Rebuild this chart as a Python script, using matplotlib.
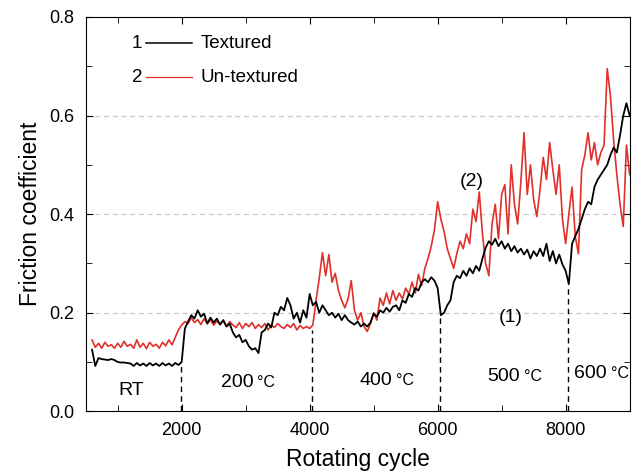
import numpy as np
import matplotlib
matplotlib.use('Agg')
import matplotlib.pyplot as plt

plt.rcParams['font.family'] = ['Liberation Sans', 'DejaVu Sans']

# sampling grid of the rotating cycle (every 50 cycles)
cycle = np.arange(600, 9001, 50)

textured = [
    0.125, 0.092, 0.108, 0.106, 0.105, 0.104, 0.106, 0.104, 0.100, 0.099,
    0.099, 0.098, 0.097, 0.092, 0.098, 0.093, 0.097, 0.092, 0.098, 0.093,
    0.097, 0.092, 0.098, 0.093, 0.097, 0.092, 0.098, 0.094, 0.100, 0.168,
    0.182, 0.195, 0.188, 0.205, 0.192, 0.198, 0.178, 0.190, 0.180, 0.188,
    0.176, 0.185, 0.172, 0.178, 0.160, 0.150, 0.155, 0.140, 0.145, 0.132,
    0.125, 0.128, 0.118, 0.160, 0.165, 0.178, 0.170, 0.200, 0.195, 0.212,
    0.205, 0.230, 0.215, 0.188, 0.200, 0.180, 0.205, 0.190, 0.238, 0.215,
    0.222, 0.200, 0.215, 0.205, 0.195, 0.200, 0.190, 0.198, 0.185, 0.195,
    0.185, 0.180, 0.176, 0.182, 0.172, 0.178, 0.172, 0.180, 0.198, 0.192,
    0.205, 0.200, 0.210, 0.202, 0.212, 0.215, 0.205, 0.225, 0.220, 0.238,
    0.232, 0.250, 0.245, 0.262, 0.268, 0.262, 0.272, 0.265, 0.250, 0.195,
    0.200, 0.215, 0.225, 0.262, 0.275, 0.270, 0.285, 0.275, 0.290, 0.280,
    0.295, 0.285, 0.310, 0.332, 0.345, 0.338, 0.350, 0.335, 0.345, 0.330,
    0.340, 0.325, 0.335, 0.322, 0.330, 0.318, 0.328, 0.310, 0.325, 0.315,
    0.330, 0.315, 0.340, 0.305, 0.325, 0.300, 0.318, 0.298, 0.285, 0.258,
    0.340, 0.355, 0.370, 0.390, 0.410, 0.425, 0.420, 0.455, 0.470, 0.480,
    0.490, 0.500, 0.520, 0.535, 0.525, 0.560, 0.600, 0.625, 0.600,
]

untextured = [
    0.145, 0.130, 0.138, 0.128, 0.140, 0.132, 0.135, 0.128, 0.138, 0.130,
    0.142, 0.132, 0.136, 0.128, 0.145, 0.130, 0.138, 0.127, 0.140, 0.132,
    0.136, 0.128, 0.140, 0.133, 0.145, 0.135, 0.150, 0.165, 0.175, 0.182,
    0.178, 0.190, 0.180, 0.186, 0.176, 0.188, 0.178, 0.185, 0.175, 0.183,
    0.176, 0.184, 0.172, 0.182, 0.175, 0.170, 0.180, 0.168, 0.178, 0.172,
    0.180, 0.168, 0.176, 0.170, 0.178, 0.165, 0.175, 0.170, 0.178, 0.172,
    0.168, 0.176, 0.170, 0.178, 0.165, 0.174, 0.168, 0.172, 0.168, 0.175,
    0.225, 0.270, 0.322, 0.275, 0.318, 0.262, 0.280, 0.245, 0.225, 0.210,
    0.228, 0.265, 0.205, 0.185, 0.200, 0.172, 0.162, 0.178, 0.200, 0.185,
    0.230, 0.215, 0.240, 0.218, 0.245, 0.225, 0.240, 0.228, 0.250, 0.238,
    0.262, 0.240, 0.278, 0.255, 0.290, 0.310, 0.335, 0.368, 0.425, 0.390,
    0.365, 0.330, 0.310, 0.290, 0.320, 0.345, 0.330, 0.360, 0.340, 0.410,
    0.385, 0.445, 0.360, 0.300, 0.275, 0.380, 0.420, 0.350, 0.440, 0.460,
    0.360, 0.500, 0.420, 0.380, 0.465, 0.565, 0.440, 0.500, 0.430, 0.395,
    0.450, 0.515, 0.470, 0.545, 0.490, 0.440, 0.500, 0.390, 0.340, 0.400,
    0.455, 0.355, 0.320, 0.490, 0.520, 0.565, 0.510, 0.545, 0.500, 0.525,
    0.540, 0.695, 0.640, 0.550, 0.480, 0.420, 0.375, 0.540, 0.480,
]

# temperature stage boundaries and the height of the dashed markers
stage_x = [1990, 4040, 6035, 8030]
stage_top = [0.097, 0.165, 0.195, 0.258]
stage_labels = ['200', '400', '500', '600']
stage_label_x = [3117, 5286, 7290, 8640]
stage_label_y = [0.059, 0.063, 0.071, 0.077]

red = '#e0302a'

fig = plt.figure(figsize=(6.36, 4.73), dpi=100)
ax = fig.add_axes([0.1347, 0.1304, 0.8553, 0.8338])

for y in [0.2, 0.4, 0.6]:
    ax.axhline(y, color='#c8c8c8', lw=0.9, ls=(0, (4, 3)), zorder=0)

ax.plot(cycle, textured, color='black', lw=1.3, zorder=3)
ax.plot(cycle, untextured, color=red, lw=1.2, zorder=2)

for x, top in zip(stage_x, stage_top):
    ax.plot([x, x], [0, top], color='black', lw=1.0, ls=(0, (4, 3)), zorder=1)

ax.text(1208, 0.043, 'RT', fontsize=14, ha='center', va='center')
for x, y, lab in zip(stage_label_x, stage_label_y, stage_labels):
    ax.text(x, y, lab, fontsize=14, ha='right', va='center')
    ax.annotate('\u00b0C', (x, y), xytext=(3, 0), textcoords='offset points',
                fontsize=11.5, ha='left', va='center')

ax.text(7150, 0.19, '(1)', fontsize=14, ha='center', va='center')
ax.text(6540, 0.467, '(2)', fontsize=14, ha='center', va='center')

# hand-drawn legend
ax.text(1300, 0.747, '1', fontsize=13.5, ha='center', va='center')
ax.plot([1440, 2160], [0.747, 0.747], color='black', lw=1.1)
ax.text(2290, 0.747, 'Textured', fontsize=13.5, ha='left', va='center')
ax.text(1300, 0.678, '2', fontsize=13.5, ha='center', va='center')
ax.plot([1440, 2160], [0.678, 0.678], color=red, lw=0.9)
ax.text(2290, 0.678, 'Un-textured', fontsize=13.5, ha='left', va='center')

ax.set_xlim(500, 9000)
ax.set_ylim(0, 0.8)
ax.set_xticks([2000, 4000, 6000, 8000])
ax.set_xticks(np.arange(1000, 9001, 1000), minor=True)
ax.set_yticks([0.0, 0.2, 0.4, 0.6, 0.8])
ax.set_yticks(np.arange(0.1, 0.8, 0.2), minor=True)
ax.set_yticklabels(['0.0', '0.2', '0.4', '0.6', '0.8'])
ax.tick_params(which='both', direction='in', top=True, right=True, labelsize=13)
ax.tick_params(which='major', length=5, pad=8)
ax.tick_params(which='minor', length=4)

ax.set_xlabel('Rotating cycle', fontsize=16.5, labelpad=6)
ax.set_ylabel('Friction coefficient', fontsize=16.5, labelpad=5)

fig.savefig('out.png', dpi=100)
